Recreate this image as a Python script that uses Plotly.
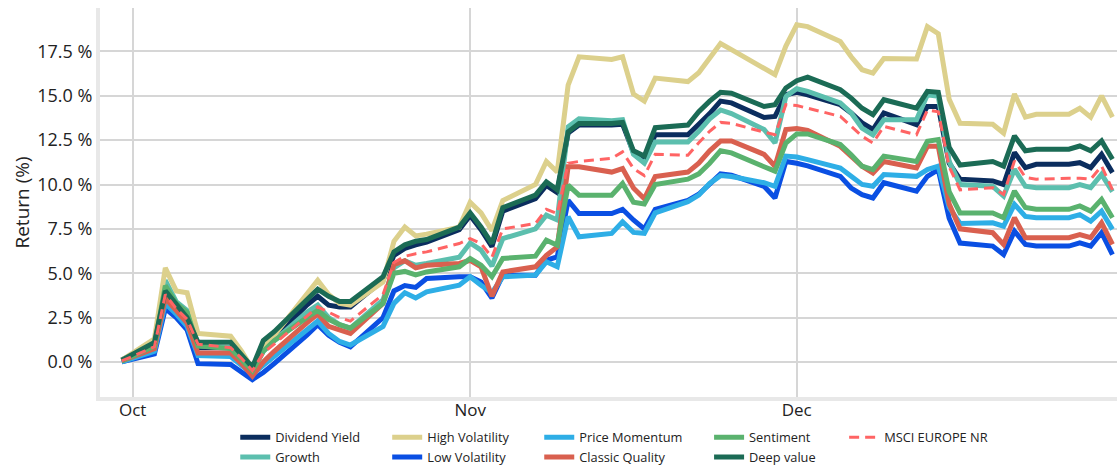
import pandas as pd
import plotly.graph_objects as go

# business days, Q4 2022
dates = pd.bdate_range("2022-09-30", "2022-12-30")

# cumulative return (%) per factor
dividend_yield = [0.1, 1.0, 3.8, 3.0, 2.3, 0.8, 0.8, 0.2, -0.4, 0.7, 1.3, 3.2, 3.7, 3.2, 3.1, 3.1,
                  4.6, 6.0, 6.4, 6.6, 6.75, 7.45, 8.25, 7.45, 6.5, 8.5, 9.2, 9.95, 9.55, 12.9, 13.35,
                  13.35, 13.4, 11.8, 11.45, 12.8, 12.8, 13.4, 14.0, 14.7, 14.6, 13.78, 13.84, 15.06,
                  15.2, 15.06, 14.5, 14.03, 13.47, 13.1, 14.03, 13.37, 14.4, 14.4, 11.2, 10.3, 10.2,
                  10.0, 11.8, 10.95, 11.14, 11.14, 11.23, 10.95, 11.7, 10.67]
growth = [0.1, 1.0, 4.6, 3.4, 2.9, 0.9, 0.8, 0.2, -0.5, 0.6, 1.2, 2.8, 3.2, 2.5, 2.1, 1.9,
          3.5, 5.3, 5.7, 5.45, 5.55, 5.9, 6.7, 6.3, 5.4, 6.95, 7.5, 8.27, 8.0, 13.25, 13.7,
          13.6, 13.65, 11.7, 11.2, 12.4, 12.4, 13.0, 13.7, 14.2, 14.0, 13.1, 12.34, 14.97,
          15.4, 15.25, 14.6, 14.03, 13.18, 12.8, 13.65, 13.65, 15.06, 14.97, 11.3, 10.0, 9.9,
          9.35, 10.86, 9.9, 9.82, 9.82, 10.0, 9.82, 10.57, 9.6]
high_volatility = [0.1, 1.3, 5.3, 4.0, 3.9, 1.6, 1.45, 0.6, -0.4, 0.9, 1.5, 3.8, 4.6, 3.8, 3.3, 3.2,
                   4.5, 6.8, 7.6, 7.1, 7.2, 7.6, 9.0, 8.4, 7.4, 9.1, 10.0, 11.3, 10.7, 15.6, 17.2,
                   17.05, 17.2, 15.1, 14.7, 16.0, 15.8, 16.3, 17.1, 17.95, 17.6, 16.5, 16.2, 17.8,
                   19.0, 18.9, 18.06, 17.2, 16.47, 16.28, 17.1, 17.07, 18.9, 18.5, 14.8, 13.45, 13.4,
                   12.9, 15.1, 13.8, 13.96, 13.96, 14.3, 13.8, 15.0, 13.8]
low_volatility = [0.0, 0.45, 3.0, 2.5, 1.8, -0.1, -0.15, -0.55, -1.0, -0.6, -0.1, 1.5, 2.1, 1.5, 1.1, 0.85,
                  2.5, 4.0, 4.3, 4.2, 4.7, 4.8, 4.8, 4.5, 3.6, 4.89, 4.89, 5.73, 5.92, 9.1, 8.36,
                  8.36, 8.6, 8.0, 7.5, 8.6, 9.1, 9.45, 10.06, 10.6, 10.53, 9.9, 9.24, 11.3,
                  11.2, 11.05, 10.46, 9.8, 9.43, 9.24, 10.1, 9.62, 10.46, 10.84, 8.1, 6.7, 6.53,
                  6.05, 7.37, 6.62, 6.53, 6.53, 6.71, 6.53, 7.28, 6.05]
price_momentum = [0.0, 0.6, 3.3, 2.7, 2.0, 0.35, 0.3, -0.2, -0.7, -0.2, 0.3, 1.8, 2.3, 1.6, 1.15, 0.95,
                  2.0, 3.3, 3.9, 3.6, 3.95, 4.32, 4.8, 4.32, 3.9, 4.8, 4.89, 5.64, 5.36, 8.18, 7.05,
                  7.24, 7.9, 7.3, 7.25, 8.4, 9.03, 9.4, 10.06, 10.5, 10.45, 10.1, 9.9, 11.6,
                  11.55, 11.4, 10.93, 10.46, 10.0, 9.9, 10.56, 10.46, 10.84, 11.03, 8.7, 7.8, 7.84,
                  7.65, 8.88, 8.2, 8.13, 8.13, 8.3, 7.94, 8.5, 7.47]
classic_quality = [0.05, 0.75, 3.6, 2.9, 2.2, 0.5, 0.5, -0.1, -0.8, 0.0, 0.6, 2.2, 2.7, 2.0, 1.8, 1.6,
                   3.3, 5.5, 5.7, 5.3, 5.45, 5.55, 5.73, 5.36, 3.7, 5.07, 5.36, 6.0, 6.48, 11.0, 11.0,
                   10.7, 10.9, 9.8, 9.2, 10.45, 10.7, 11.2, 11.9, 12.45, 12.45, 11.7, 11.03, 13.1,
                   13.15, 13.05, 12.15, 11.6, 11.03, 10.65, 11.3, 10.93, 12.15, 12.15, 8.9, 7.5, 7.28,
                   6.62, 8.13, 7.0, 7.0, 7.0, 7.18, 7.0, 7.84, 6.62]
sentiment = [0.05, 0.9, 4.3, 3.3, 2.8, 0.9, 0.75, 0.15, -0.5, 0.6, 1.2, 2.5, 2.9, 2.4, 2.1, 1.9,
             3.3, 5.0, 5.1, 4.9, 5.07, 5.36, 5.83, 5.45, 4.8, 5.83, 5.96, 6.86, 6.58, 9.96, 9.4,
             9.4, 10.06, 9.0, 8.9, 10.0, 10.3, 10.6, 11.2, 11.9, 11.78, 11.0, 10.75, 12.34,
             12.85, 12.85, 12.25, 11.68, 11.03, 10.84, 11.6, 11.3, 12.43, 12.53, 9.6, 8.4, 8.4,
             8.13, 9.63, 8.7, 8.6, 8.6, 8.79, 8.5, 9.16, 8.13]
deep_value = [0.1, 1.1, 4.0, 3.2, 2.5, 1.1, 1.1, 0.4, -0.3, 1.2, 1.7, 3.5, 4.1, 3.7, 3.4, 3.4,
              4.8, 6.2, 6.6, 6.8, 6.9, 7.6, 8.4, 7.6, 6.67, 8.7, 9.4, 10.15, 9.7, 12.97, 13.44,
              13.44, 13.5, 11.9, 11.6, 13.2, 13.35, 14.1, 14.7, 15.2, 15.15, 14.4, 14.5, 15.44,
              15.85, 16.05, 15.34, 14.87, 14.3, 13.94, 14.78, 14.3, 15.25, 15.2, 12.1, 11.1, 11.3,
              11.04, 12.74, 11.9, 11.99, 11.99, 12.17, 11.9, 12.46, 11.42]
msci_europe = [0.05, 0.85, 3.8, 3.0, 2.4, 1.0, 0.8, 0.2, -0.5, 0.5, 1.0, 2.6, 3.1, 2.8, 2.5, 2.3,
               3.8, 5.6, 5.95, 6.1, 6.2, 6.67, 6.95, 6.67, 5.9, 7.5, 7.8, 8.6, 8.36, 11.2, 11.3,
               11.47, 11.84, 10.9, 10.5, 11.7, 11.65, 12.35, 13.0, 13.5, 13.45, 12.95, 12.8, 14.5,
               14.45, 14.3, 13.84, 13.28, 12.72, 12.34, 13.28, 12.8, 14.2, 14.1, 11.0, 9.7, 9.82,
               9.44, 11.33, 10.4, 10.3, 10.35, 10.35, 10.3, 11.04, 9.7]

# (name, values, colour, legend column) in plotting order
series = [
    ("Dividend Yield", dividend_yield, "#0B2D5E", "legend"),
    ("Growth", growth, "#5CBFAE", "legend"),
    ("High Volatility", high_volatility, "#DCD08C", "legend2"),
    ("Low Volatility", low_volatility, "#0A4FE3", "legend2"),
    ("Price Momentum", price_momentum, "#2EAEE6", "legend3"),
    ("Classic Quality", classic_quality, "#D9604F", "legend3"),
    ("Sentiment", sentiment, "#5AB26E", "legend4"),
    ("Deep value", deep_value, "#1B6B55", "legend4"),
]

fig = go.Figure()
for name, vals, color, leg in series:
    fig.add_trace(go.Scatter(x=dates, y=vals, name=name, mode="lines",
                             line=dict(color=color, width=5), legend=leg))
fig.add_trace(go.Scatter(x=dates, y=msci_europe, name="MSCI EUROPE NR", mode="lines",
                         line=dict(color="#FF6464", width=3, dash="10px,6px"), legend="legend5"))

font = "Open Sans, Segoe UI, sans-serif"
leg_style = dict(orientation="v", yanchor="top", y=-0.0656, xanchor="left",
                 font=dict(family=font, size=12.8, color="#222222"),
                 bgcolor="rgba(0,0,0,0)", tracegroupgap=0, itemwidth=30)
# legend columns placed by their left edge (paper coords)
col_x = [0.1330, 0.2824, 0.4319, 0.5989, 0.7317]
legends = {}
for i, cx in enumerate(col_x):
    key = "legend" if i == 0 else f"legend{i + 1}"
    legends[key] = dict(leg_style, x=cx)

fig.update_layout(
    width=1117, height=466,
    margin=dict(l=100, r=0, t=8, b=69, autoexpand=False),
    paper_bgcolor="white", plot_bgcolor="white",
    font=dict(family=font, size=16, color="#222222"),
    showlegend=True,
    **legends,
)
fig.update_xaxes(
    range=["2022-09-28", "2022-12-30 10:00"],
    tickvals=["2022-10-01", "2022-11-01", "2022-12-01"],
    ticktext=["Oct", "Nov", "Dec"],
    showgrid=True, gridcolor="#D6D6D6", gridwidth=1.5,
    showline=True, linecolor="#E8E8E8", linewidth=4,
    ticks="", tickfont=dict(size=17), ticklabelstandoff=-5, automargin=False,
)
fig.update_yaxes(
    range=[-1.98, 19.95], dtick=2.5, tickformat=".1f", ticksuffix=" %",
    showgrid=True, gridcolor="#D6D6D6", gridwidth=1.5, zeroline=False,
    showline=True, linecolor="#E8E8E8", linewidth=4,
    ticks="", tickfont=dict(size=18), automargin=False,
    title=dict(text="Return (%)", font=dict(size=19), standoff=4),
)

fig.write_html("out.html", config={"displayModeBar": False},
               post_script="document.body.style.margin='0px';")
